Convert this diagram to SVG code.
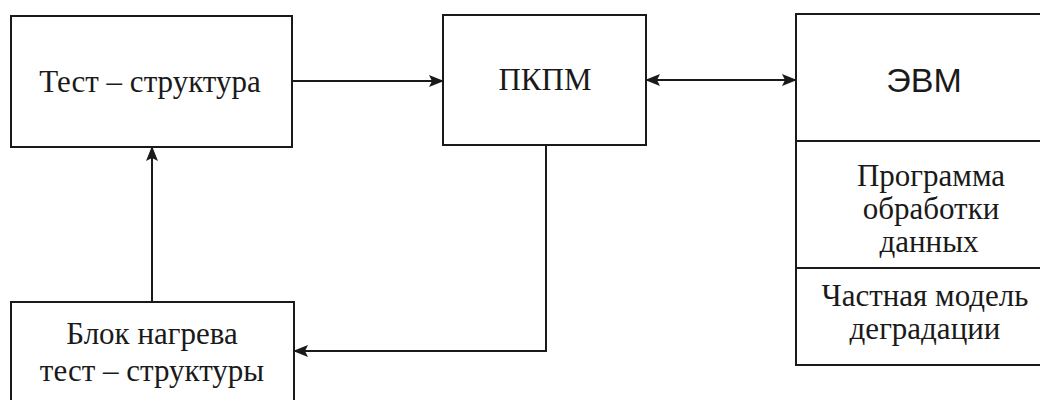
<svg xmlns="http://www.w3.org/2000/svg" width="1040" height="400" viewBox="0 0 1040 400">
<style>
.box{fill:none;stroke:#1a1a1a;stroke-width:2}
.ln{fill:none;stroke:#1a1a1a;stroke-width:2}
.t{font-family:"Liberation Serif","Times New Roman",serif;font-size:31px;fill:#1a1a1a;text-anchor:middle}
.s{font-family:"Liberation Sans",Arial,sans-serif;font-size:34px;fill:#1a1a1a;text-anchor:middle}
</style>
<defs>
<marker id="ah" markerWidth="15" markerHeight="12" refX="14" refY="6" orient="auto-start-reverse" markerUnits="userSpaceOnUse">
<path d="M0,0 L15,6 L0,12 L3,6 Z" fill="#1a1a1a"/>
</marker>
</defs>
<rect width="1040" height="400" fill="#fff"/>
<g id="test">
<rect class="box" x="11" y="16" width="281" height="131"/>
<text class="t" x="150" y="92">Тест – структура</text>
</g>
<g id="pkpm">
<rect class="box" x="443" y="15" width="203" height="130"/>
<text class="t" x="545" y="90">ПКПМ</text>
</g>
<g id="evm">
<rect class="box" x="796" y="14" width="264" height="351"/>
<line class="ln" x1="796" y1="141" x2="1060" y2="141"/>
<line class="ln" x1="796" y1="268" x2="1060" y2="268"/>
<text class="s" x="924" y="92">ЭВМ</text>
<text class="t" x="931" y="186">Программа</text>
<text class="t" x="931" y="219">обработки</text>
<text class="t" x="929" y="252">данных</text>
<text class="t" x="925" y="306">Частная модель</text>
<text class="t" x="925" y="339">деградации</text>
</g>
<g id="heat">
<rect class="box" x="11" y="302" width="283" height="110"/>
<text class="t" x="152" y="344">Блок нагрева</text>
<text class="t" x="152" y="381">тест – структуры</text>
</g>
<g id="connectors">
<line class="ln" x1="292" y1="81" x2="443" y2="81" marker-end="url(#ah)"/>
<line class="ln" x1="646" y1="80" x2="796" y2="80" marker-start="url(#ah)" marker-end="url(#ah)"/>
<line class="ln" x1="152" y1="302" x2="152" y2="147" marker-end="url(#ah)"/>
<polyline class="ln" points="546,145 546,351 294,351" marker-end="url(#ah)"/>
</g>
</svg>
